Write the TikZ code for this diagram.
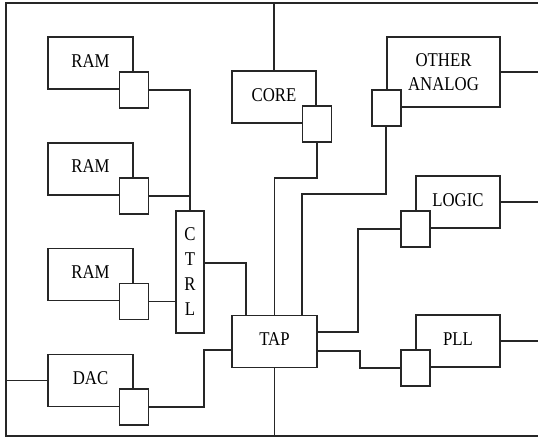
\documentclass[tikz,border=0pt]{standalone}
\usepackage{fontspec}
\setmainfont{Liberation Serif}
\newfontfamily\labfont[FakeStretch=0.86]{Liberation Serif}
\usetikzlibrary{positioning,calc}

\begin{document}
\begin{tikzpicture}[x=1pt, y=1pt,
  blk/.style={draw=black!85, line width=1.8pt, minimum width=85pt, minimum height=52pt,
              inner sep=0pt, align=center, font=\labfont\fontsize{19.5}{24}\selectfont, text depth=0.45em},
  port/.style={draw=black!85, line width=1.8pt, fill=white, minimum width=29pt,
               minimum height=36pt, inner sep=0pt},
  wire/.style={draw=black!85, line width=1.8pt}
]
  \useasboundingbox (0,0) rectangle (538,-438);
  % frame
  \coordinate (ftl) at (6,-3);
  \coordinate (fbl) at (6,-436);
  \coordinate (fr)  at (538,0);
  \draw[wire] (ftl -| fr) -- (ftl) -- (fbl) -- (fbl -| fr);
  \coordinate (ftop) at (274,-3);
  \coordinate (fbot) at (274,-436);

  % blocks
  \node[blk] (ram1) at (90.5,-63) {RAM};
  \node[blk, below=52pt of ram1] (ram2) {RAM};
  \node[blk, below=52pt of ram2] (ram3) {RAM};
  \node[blk, below=52pt of ram3] (dac)  {DAC};
  \node[blk, minimum width=84pt] (core) at (274,-97) {CORE};
  \node[blk] (tap) at (274.5,-341.5) {TAP};
  \node[blk, minimum width=28pt, minimum height=122pt, text depth=0pt,
        font=\labfont\fontsize{19.5}{25}\selectfont] (ctrl) at (190,-272) {C\\T\\R\\L};
  \node[blk, minimum width=113pt, minimum height=70pt, text depth=0pt] (oa) at (443.5,-72) {OTHER\\ANALOG};
  \node[blk, minimum width=84pt] (logic) at (458,-202) {LOGIC};
  \node[blk, minimum width=84pt] (pll)   at (458,-341) {PLL};

  % ports
  \node[port] (pram1)  at (ram1.south east)  {};
  \node[port] (pram2)  at (ram2.south east)  {};
  \node[port] (pram3)  at (ram3.south east)  {};
  \node[port] (pdac)   at (dac.south east)   {};
  \node[port] (pcore)  at (core.south east)  {};
  \node[port] (poa)    at (oa.south west)    {};
  \node[port] (plogic) at (logic.south west) {};
  \node[port] (ppll)   at (pll.south west)   {};

  % wires
  \draw[wire] (ftop) -- (core.north);
  \draw[wire] (tap.south) -- (tap.south |- fbot);
  \draw[wire] (dac.west) -- (dac.west -| fbl);
  \draw[wire] (pram1.east) -| (ctrl.north);
  \draw[wire] (pram2.east) -- (pram2.east -| ctrl.north);
  \draw[wire] (pram3.east) -- (pram3.east -| ctrl.west);
  \draw[wire] ([yshift=9pt]ctrl.east) -| ([xshift=-28.5pt]tap.north);
  \draw[wire] (pdac.east) -- ++(55,0) |- ([yshift=-8.5pt]tap.west);
  \draw[wire] (pcore.south) -- ++(0,-35) -| (tap.north);
  \draw[wire] (poa.south) -- ++(0,-67) -| ([xshift=27.5pt]tap.north);
  \draw[wire] (plogic.west) -- ++(-42,0) |- ([yshift=9.5pt]tap.east);
  \draw[wire] ([yshift=-9.5pt]tap.east) -- ++(42,0) |- (ppll.west);
  \draw[wire] (oa.east) -- (oa.east -| fr);
  \draw[wire] (logic.east) -- (logic.east -| fr);
  \draw[wire] (pll.east) -- (pll.east -| fr);
\end{tikzpicture}
\end{document}
